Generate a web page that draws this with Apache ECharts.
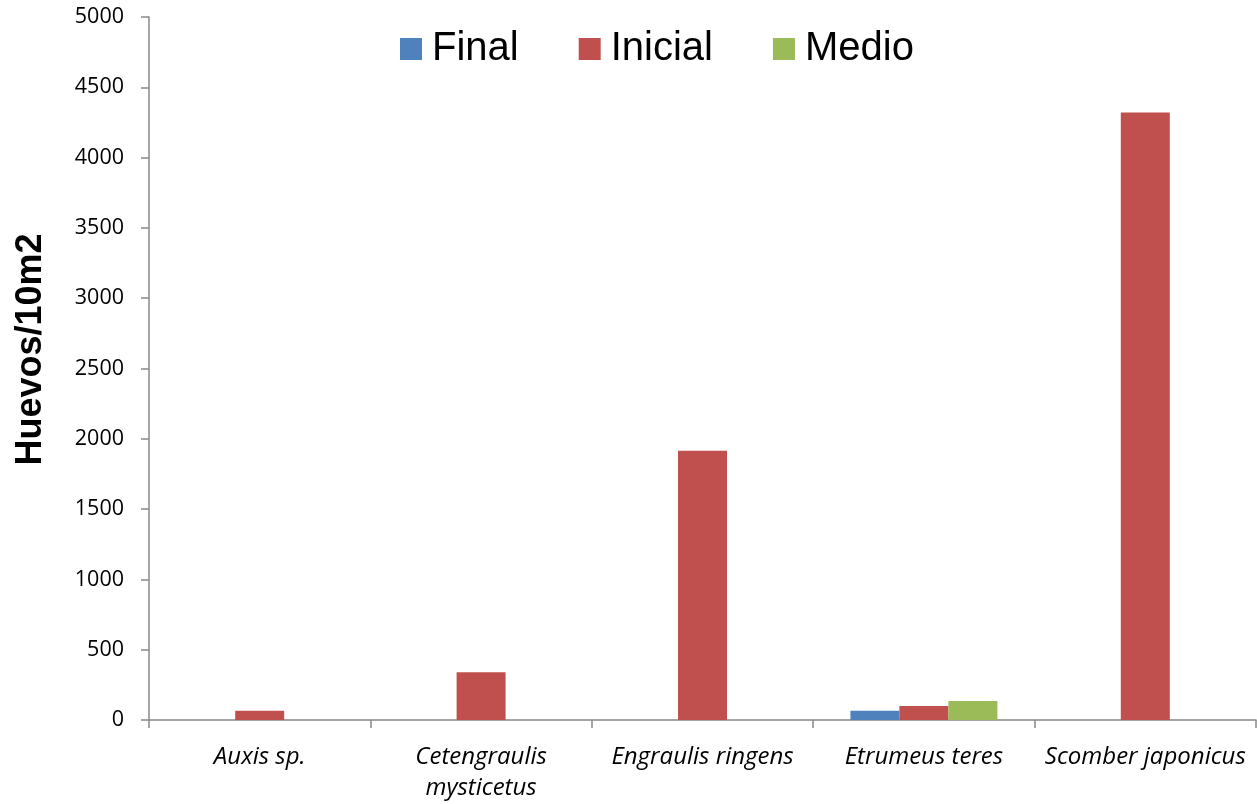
<!DOCTYPE html>
<html><head><meta charset="utf-8">
<script src="https://cdn.jsdelivr.net/npm/echarts@6/dist/echarts.min.js"></script>
<style>html,body{margin:0;padding:0;background:#fff}#c{width:1257px;height:804px}</style>
</head><body><div id="c"></div>
<script>
var categories = ['Auxis sp.', 'Cetengraulis\nmysticetus', 'Engraulis ringens', 'Etrumeus teres', 'Scomber japonicus'];
var finalVals = [null, null, null, 65, null];
var inicialVals = [65, 340, 1915, 100, 4320];
var medioVals = [null, null, null, 135, null];
var yMin = 0, yMax = 5000, yStep = 500;

var chart = echarts.init(document.getElementById('c'));
chart.setOption({
  animation: false,
  legend: {
    top: 24, left: 395, itemWidth: 22, itemHeight: 22, itemGap: 60,
    icon: 'rect',
    textStyle: {fontFamily: 'Liberation Sans, Arial', fontSize: 40, color: '#000', padding: [0, 0, 0, 5]},
    data: ['Final', 'Inicial', 'Medio']
  },
  grid: {left: 149, right: 1, top: 17, bottom: 83},
  xAxis: {
    type: 'category', data: categories,
    axisLine: {lineStyle: {color: '#888', width: 1.5}},
    axisTick: {show: true, length: 8, lineStyle: {color: '#888', width: 1.5}},
    axisLabel: {fontFamily: 'Open Sans, Liberation Sans', fontStyle: 'italic', fontSize: 24, color: '#000', margin: 22, lineHeight: 31, interval: 0}
  },
  yAxis: {
    type: 'value', min: yMin, max: yMax, interval: yStep,
    name: 'Huevos/10m2', nameLocation: 'middle', nameGap: 100, nameRotate: 90,
    nameTextStyle: {fontFamily: 'Liberation Sans, Arial', fontWeight: 'bold', fontSize: 36, color: '#000', padding: [0, 0, 0, 38]},
    axisLine: {show: true, lineStyle: {color: '#888', width: 1.5}},
    axisTick: {show: true, length: 8, lineStyle: {color: '#888', width: 1.5}},
    splitLine: {show: false},
    axisLabel: {fontFamily: 'Open Sans, Liberation Sans', fontSize: 21.5, color: '#000', margin: 25, formatter: function (v) { return String(v); }}
  },
  series: [
    {name: 'Final', type: 'bar', data: finalVals, itemStyle: {color: '#4F81BD'}, barGap: '0%', barCategoryGap: '33.6%'},
    {name: 'Inicial', type: 'bar', data: inicialVals, itemStyle: {color: '#C0504D'}, barGap: '0%', barCategoryGap: '33.6%'},
    {name: 'Medio', type: 'bar', data: medioVals, itemStyle: {color: '#9BBB59'}, barGap: '0%', barCategoryGap: '33.6%'}
  ]
});
</script></body></html>
